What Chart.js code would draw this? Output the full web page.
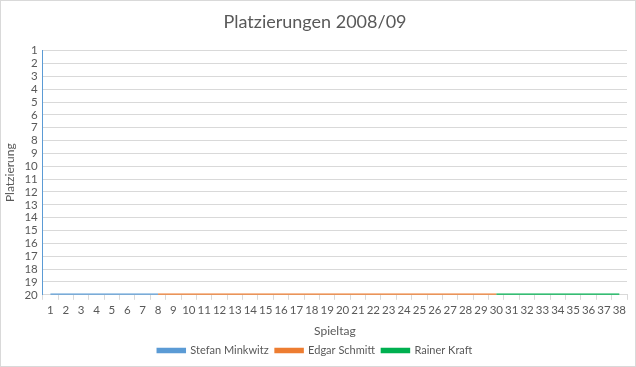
<!DOCTYPE html>
<html>
<head>
<meta charset="utf-8">
<script src="https://cdn.jsdelivr.net/npm/chart.js@4/dist/chart.umd.min.js"></script>
<style>
  html, body { margin: 0; padding: 0; background: #fff; }
  #wrap { position: relative; width: 634px; height: 365px; border: 1px solid #d9d9d9; }
</style>
</head>
<body>
<div id="wrap"><canvas id="chart"></canvas></div>
<script>
/* data */
const spieltage = [];
for (let i = 1; i <= 38; i++) spieltage.push(String(i));

const minkwitz = [20, 20, 20, 20, 20, 20, 20, 20, null, null, null, null, null, null, null, null, null, null, null, null, null, null, null, null, null, null, null, null, null, null, null, null, null, null, null, null, null, null];
const schmitt = [null, null, null, null, null, null, null, 20, 20, 20, 20, 20, 20, 20, 20, 20, 20, 20, 20, 20, 20, 20, 20, 20, 20, 20, 20, 20, 20, 20, null, null, null, null, null, null, null, null];
const kraft = [null, null, null, null, null, null, null, null, null, null, null, null, null, null, null, null, null, null, null, null, null, null, null, null, null, null, null, null, null, 20, 20, 20, 20, 20, 20, 20, 20, 20];

const textColor = "#595959";
const fontFam = "Lato, 'Liberation Sans', sans-serif";

function serie(label, data, color) {
  return {
    label: label,
    data: data,
    borderColor: color,
    backgroundColor: color,
    borderWidth: 2.5,
    pointRadius: 0,
    spanGaps: false,
    tension: 0
  };
}

new Chart(document.getElementById("chart").getContext("2d"), {
  type: "line",
  data: {
    labels: spieltage,
    datasets: [
      serie("Stefan Minkwitz", minkwitz, "#5b9bd5"),
      serie("Edgar Schmitt", schmitt, "#ed7d31"),
      serie("Rainer Kraft", kraft, "#00b050")
    ]
  },
  options: {
    responsive: true,
    maintainAspectRatio: false,
    animation: false,
    layout: { padding: { left: 2, right: 8, top: 4, bottom: 0 } },
    plugins: {
      title: {
        display: true,
        text: "Platzierungen 2008/09",
        color: textColor,
        font: { family: fontFam, size: 18, weight: "normal" },
        padding: { top: 6, bottom: 18 }
      },
      legend: {
        position: "bottom",
        labels: {
          color: textColor,
          font: { family: fontFam, size: 11 },
          boxWidth: 27,
          boxHeight: 3,
          padding: 7
        }
      },
      tooltip: { enabled: false }
    },
    scales: {
      x: {
        offset: true,
        title: {
          display: true,
          text: "Spieltag",
          color: textColor,
          font: { family: fontFam, size: 12 },
          padding: { top: 2, bottom: 0 }
        },
        ticks: {
          color: textColor,
          font: { family: fontFam, size: 11.5 },
          maxRotation: 0,
          autoSkip: false,
          padding: 4
        },
        grid: {
          offset: true,
          drawOnChartArea: false,
          drawTicks: true,
          tickLength: 5,
          color: "#d9d9d9"
        },
        border: { color: "#d9d9d9" }
      },
      y: {
        reverse: true,
        min: 1,
        max: 20,
        title: {
          display: true,
          text: "Platzierung",
          color: textColor,
          font: { family: fontFam, size: 12 },
          padding: { top: 0, bottom: 2 }
        },
        ticks: {
          stepSize: 1,
          autoSkip: false,
          color: textColor,
          font: { family: fontFam, size: 11.5 },
          padding: 5
        },
        grid: {
          color: "#d9d9d9",
          drawTicks: false
        },
        border: { color: "#5b9bd5", width: 1 }
      }
    }
  }
});
</script>
</body>
</html>
